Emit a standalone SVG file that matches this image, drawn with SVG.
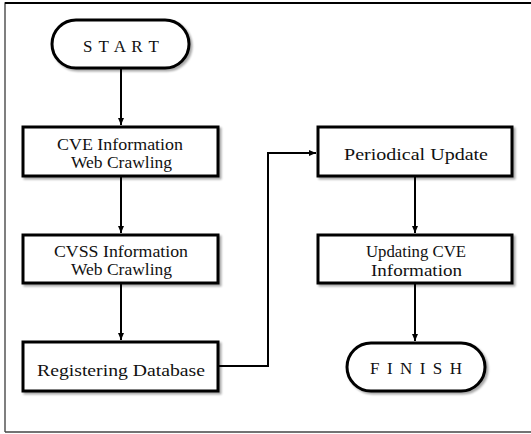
<svg xmlns="http://www.w3.org/2000/svg" width="531" height="434" viewBox="0 0 531 434">
<defs>
<filter id="sh" x="-10%" y="-10%" width="130%" height="140%">
<feGaussianBlur in="SourceAlpha" stdDeviation="1.2"/>
<feOffset dx="2" dy="2" result="b"/>
<feComponentTransfer><feFuncA type="linear" slope="0.35"/></feComponentTransfer>
<feMerge><feMergeNode/><feMergeNode in="SourceGraphic"/></feMerge>
</filter>
<marker id="ah" markerWidth="8" markerHeight="8" refX="7" refY="4" orient="auto" markerUnits="userSpaceOnUse">
<path d="M0,1 L7,4 L0,7 Z" fill="#000"/>
</marker>
</defs>
<style>
.box{fill:#fff;stroke:#000;stroke-width:3;filter:url(#sh)}
.t{font-family:"Liberation Serif","Times New Roman",serif;font-size:17px;fill:#111;text-anchor:middle}
.c{fill:none;stroke:#000;stroke-width:2}
</style>
<rect width="531" height="434" fill="#fff"/>
<path d="M5,432 V3 H531" fill="none" stroke="#555" stroke-width="1.5"/>
<line x1="5" y1="3" x2="531" y2="3" stroke="#000" stroke-width="2"/>
<line x1="5" y1="432" x2="531" y2="432" stroke="#444" stroke-width="1.5"/>
<g id="connectors">
<line class="c" x1="121" y1="68" x2="121" y2="125" marker-end="url(#ah)"/>
<line class="c" x1="121" y1="176" x2="121" y2="233" marker-end="url(#ah)"/>
<line class="c" x1="121" y1="283" x2="121" y2="340" marker-end="url(#ah)"/>
<polyline class="c" points="218,366 268,366 268,153 316,153" marker-end="url(#ah)"/>
<line class="c" x1="415" y1="176" x2="415" y2="233" marker-end="url(#ah)"/>
<line class="c" x1="415" y1="283" x2="415" y2="341" marker-end="url(#ah)"/>
</g>
<g id="start">
<rect class="box" x="52" y="20" width="137" height="48" rx="24"/>
<text class="t" x="121" y="52" textLength="76" lengthAdjust="spacing">S T A R T</text>
</g>
<g id="cve">
<rect class="box" x="23" y="127" width="195" height="49"/>
<text class="t" x="120" y="150" textLength="126" lengthAdjust="spacingAndGlyphs">CVE Information</text>
<text class="t" x="121.5" y="168" textLength="101" lengthAdjust="spacingAndGlyphs">Web Crawling</text>
</g>
<g id="cvss">
<rect class="box" x="23" y="235" width="195" height="48"/>
<text class="t" x="121" y="257" textLength="134" lengthAdjust="spacingAndGlyphs">CVSS Information</text>
<text class="t" x="121.5" y="275" textLength="101" lengthAdjust="spacingAndGlyphs">Web Crawling</text>
</g>
<g id="registering">
<rect class="box" x="23" y="342" width="195" height="49"/>
<text class="t" x="121" y="376" textLength="168" lengthAdjust="spacingAndGlyphs">Registering Database</text>
</g>
<g id="periodical">
<rect class="box" x="318" y="127" width="194" height="49"/>
<text class="t" x="416" y="160" textLength="144" lengthAdjust="spacingAndGlyphs">Periodical Update</text>
</g>
<g id="updating">
<rect class="box" x="318" y="235" width="194" height="48"/>
<text class="t" x="416" y="257" textLength="100" lengthAdjust="spacingAndGlyphs">Updating CVE</text>
<text class="t" x="416.5" y="276" textLength="91" lengthAdjust="spacingAndGlyphs">Information</text>
</g>
<g id="finish">
<rect class="box" x="347" y="343" width="138" height="48" rx="24"/>
<text class="t" x="416" y="374" textLength="92" lengthAdjust="spacing">F I N I S H</text>
</g>
</svg>
